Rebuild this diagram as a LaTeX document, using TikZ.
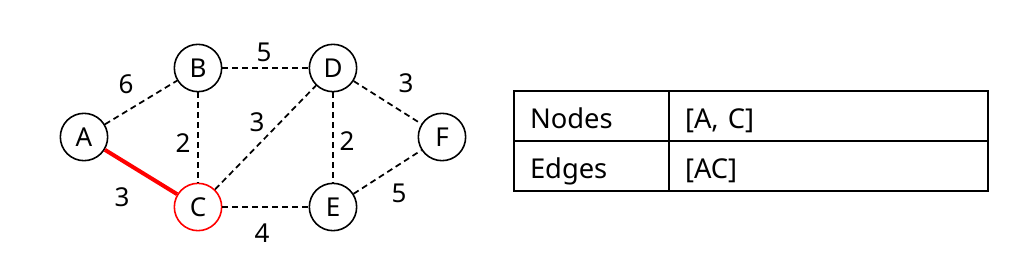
\documentclass[tikz,border=0pt]{standalone}
\usepackage{fontspec}
\setmainfont{Noto Sans}
\usetikzlibrary{positioning}

\tikzset{
  vertex/.style={draw, circle, line width=1.2pt, minimum size=35.5pt, inner sep=0pt, font=\fontsize{19.5}{22}\selectfont},
  picked/.style={vertex, draw=red},
  road/.style={dash pattern=on 4.5pt off 3pt, line width=1.3pt},
  chosen/.style={red, line width=3pt},
  wt/.style={font=\fontsize{19.5}{22}\selectfont, inner sep=0pt},
  cell/.style={draw, line width=1.1pt, outer sep=0pt, minimum height=37.5pt, inner xsep=12pt, inner ysep=0pt, text height=22pt, text depth=4pt, align=left, font=\fontsize{20.5}{24}\selectfont, anchor=north west},
}

\begin{document}
\begin{tikzpicture}[x=0.75pt, y=-0.75pt]
  \useasboundingbox (0,0) rectangle (1028,278);

  % graph
  \node[vertex] (a) at (84,137) {A};
  \node[vertex] (b) at (198,68) {B};
  \node[picked] (c) at (198,207) {C};
  \node[vertex] (d) at (333,68) {D};
  \node[vertex] (e) at (333,207) {E};
  \node[vertex] (f) at (442,137) {F};

  \draw[road] (a) -- (b);
  \draw[road] (b) -- (d);
  \draw[road] (d) -- (f);
  \draw[road] (b) -- (c);
  \draw[road] (c) -- (d);
  \draw[road] (d) -- (e);
  \draw[road] (c) -- (e);
  \draw[road] (e) -- (f);
  \draw[chosen] (a) -- (c);

  % weights
  \node[wt] (wAB) at (126,84) {6};
  \node[wt] (wBD) at (264,52) {5};
  \node[wt] (wDF) at (406,83) {3};
  \node[wt] (wBC) at (183,143) {2};
  \node[wt] (wCD) at (257,122) {3};
  \node[wt] (wDE) at (347,141) {2};
  \node[wt] (wAC) at (122,197) {3};
  \node[wt] (wCE) at (262,233) {4};
  \node[wt] (wEF) at (399,193) {5};

  % table
  \node[cell, text width=92.25pt] (nodesKey) at (514,91) {Nodes};
  \node[cell, text width=215.25pt, right=0pt of nodesKey] (nodesVal) {[A, C]};
  \node[cell, text width=92.25pt, below=0pt of nodesKey] (edgesKey) {Edges};
  \node[cell, text width=215.25pt, right=0pt of edgesKey] (edgesVal) {[AC]};
\end{tikzpicture}
\end{document}
